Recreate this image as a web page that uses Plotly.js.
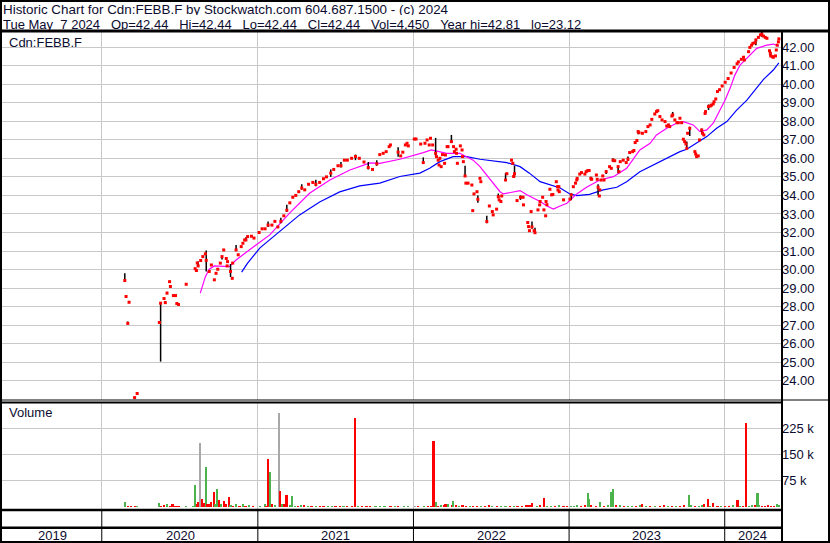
<!DOCTYPE html>
<html><head><meta charset="utf-8">
<script src="https://cdn.plot.ly/plotly-3.0.1.min.js"></script>
<style>html,body{margin:0;padding:0;background:#fff;}#chart{width:830px;height:543px;}</style>
</head><body><div id="chart"></div>
<script>
// ---------------- DATA ----------------
const priceDates = [
'2020-02-24','2020-02-27','2020-03-02','2020-03-05','2020-03-18','2020-03-24','2020-05-15','2020-05-18','2020-05-26','2020-05-29',
'2020-06-02','2020-06-08','2020-06-10','2020-06-17','2020-06-22','2020-06-25','2020-06-29','2020-07-17','2020-08-07','2020-08-10',
'2020-08-12','2020-08-14','2020-08-20','2020-08-25','2020-08-31','2020-09-02','2020-09-09','2020-09-14','2020-09-21','2020-09-25',
'2020-09-29','2020-10-05','2020-10-09','2020-10-13','2020-10-19','2020-10-21','2020-10-22','2020-10-29','2020-11-02','2020-11-03',
'2020-11-11','2020-11-16','2020-11-23','2020-11-27','2020-12-01','2020-12-04','2020-12-08','2020-12-17','2020-12-23',
'2021-01-04','2021-01-11','2021-01-18','2021-01-25','2021-02-03','2021-02-10','2021-02-17','2021-02-24','2021-03-03','2021-03-10',
'2021-03-17','2021-03-24','2021-03-31','2021-04-07','2021-04-14','2021-04-21','2021-04-30','2021-05-10','2021-05-17','2021-05-26',
'2021-06-04','2021-06-11','2021-06-21','2021-06-28','2021-07-08','2021-07-15','2021-07-23','2021-07-30','2021-08-09','2021-08-18',
'2021-08-27','2021-09-07','2021-09-17','2021-09-27','2021-10-07','2021-10-14','2021-10-22','2021-10-29','2021-11-05','2021-11-08',
'2021-11-26','2021-12-02','2021-12-07','2021-12-13','2021-12-17','2021-12-20',
'2022-01-03','2022-01-07','2022-01-18','2022-01-24','2022-01-28','2022-02-02','2022-02-07','2022-02-10','2022-02-15','2022-02-22',
'2022-02-24','2022-02-28','2022-03-02','2022-03-04','2022-03-07','2022-03-10','2022-03-15','2022-03-17','2022-03-21','2022-03-23',
'2022-03-31','2022-04-05','2022-04-07','2022-04-11','2022-04-12','2022-04-14','2022-04-21','2022-04-25','2022-04-26','2022-04-28',
'2022-05-02','2022-05-04','2022-05-09','2022-05-18','2022-05-20','2022-05-23','2022-05-30','2022-06-01','2022-06-06','2022-06-08',
'2022-06-22','2022-06-28','2022-07-05','2022-07-07','2022-07-15','2022-07-19','2022-07-21','2022-07-25','2022-07-27','2022-08-05',
'2022-08-08','2022-08-19','2022-08-22','2022-08-24','2022-08-26','2022-09-01','2022-09-09','2022-09-15','2022-09-16','2022-09-26',
'2022-09-28','2022-09-30','2022-10-04','2022-10-06','2022-10-11','2022-10-13','2022-10-20','2022-10-24','2022-10-25','2022-10-31',
'2022-11-03','2022-11-07','2022-11-08','2022-11-10','2022-11-17','2022-11-21','2022-11-24','2022-12-02','2022-12-05','2022-12-06',
'2022-12-08','2022-12-09','2022-12-19',
'2023-01-03','2023-01-06','2023-01-11','2023-01-16','2023-01-19','2023-01-20','2023-01-26','2023-01-30','2023-02-07','2023-02-10',
'2023-02-14','2023-02-17','2023-02-21','2023-02-23','2023-03-06','2023-03-08','2023-03-10','2023-03-13','2023-03-14','2023-03-17',
'2023-03-21','2023-03-24','2023-03-29','2023-04-06','2023-04-10','2023-04-14','2023-04-18','2023-04-26','2023-04-28','2023-05-01',
'2023-05-08','2023-05-15','2023-05-19','2023-05-23','2023-05-30','2023-06-02','2023-06-05','2023-06-09','2023-06-12','2023-06-14',
'2023-06-22','2023-06-30','2023-07-05','2023-07-10','2023-07-14','2023-07-21','2023-07-25','2023-07-28','2023-08-02','2023-08-07',
'2023-08-14','2023-08-18','2023-08-22','2023-08-25','2023-08-30','2023-09-01','2023-09-06','2023-09-11','2023-09-14','2023-09-18',
'2023-09-22','2023-09-26','2023-09-29','2023-10-02','2023-10-04','2023-10-06','2023-10-11','2023-10-23','2023-10-25','2023-10-27',
'2023-10-31','2023-11-03','2023-11-08','2023-11-10','2023-11-13','2023-11-16','2023-11-17','2023-11-24','2023-11-28','2023-12-01',
'2023-12-05','2023-12-07','2023-12-11','2023-12-15','2023-12-20','2023-12-26',
'2024-01-02','2024-01-09','2024-01-16','2024-01-23','2024-01-30','2024-02-02','2024-02-09','2024-02-14','2024-02-16','2024-02-26',
'2024-02-29','2024-03-04','2024-03-07','2024-03-12','2024-03-14','2024-03-20','2024-03-25','2024-03-28','2024-04-01','2024-04-05',
'2024-04-09','2024-04-15','2024-04-17','2024-04-18','2024-04-22','2024-04-24','2024-04-29','2024-05-01','2024-05-03','2024-05-06',
'2024-05-07'
];
const priceClose = [
29.41,28.55,27.10,28.24,23.10,23.32,27.15,28.19,28.44,28.22,
28.73,29.35,29.09,28.60,28.60,28.17,28.12,29.21,30.05,29.95,
30.36,30.20,30.49,30.70,30.85,30.50,29.90,30.25,29.45,29.80,
30.02,30.35,30.70,31.06,30.60,30.20,30.43,29.90,29.53,30.35,
31.06,30.80,31.24,31.42,31.60,31.60,31.78,31.80,31.70,
32.00,32.20,32.20,32.40,32.40,32.60,32.30,32.60,32.90,33.20,
33.60,33.90,34.00,34.20,34.40,34.30,34.60,34.70,34.60,34.70,
34.90,35.00,35.20,35.40,35.60,35.60,35.90,35.90,36.00,36.10,
36.00,35.80,35.50,35.40,35.70,36.20,36.27,36.36,36.63,36.72,
36.33,36.13,36.33,36.72,36.81,36.67,
37.04,37.04,36.77,35.77,36.81,36.99,36.72,37.08,36.72,36.27,
36.09,35.90,35.64,36.00,35.55,36.20,35.73,36.18,36.63,36.63,
36.90,36.63,36.36,36.49,36.27,35.73,36.67,36.45,36.09,35.82,
35.05,34.66,34.66,34.56,33.18,34.08,34.20,33.79,34.92,34.74,
32.59,33.43,33.13,32.95,33.26,33.93,33.76,33.67,33.97,34.83,
35.17,35.90,35.73,35.02,35.17,33.72,33.90,33.90,33.49,32.54,
32.32,32.10,33.13,32.30,32.10,31.99,33.22,33.49,33.67,33.90,
33.22,32.90,33.67,33.50,34.33,34.03,34.05,34.74,34.47,34.29,
34.47,34.20,33.76,
33.80,34.03,34.47,34.66,34.83,34.92,35.15,35.23,35.15,35.28,
35.34,35.34,34.92,34.87,35.10,34.87,34.44,33.97,34.30,34.83,
35.05,34.83,35.28,35.55,35.46,35.90,35.87,35.55,35.28,35.82,
35.90,35.77,35.95,36.31,36.36,36.42,36.85,36.96,37.44,37.38,
37.35,37.44,37.71,37.80,38.10,38.39,38.52,38.57,38.25,38.07,
37.98,37.74,37.80,37.71,38.28,38.34,38.07,37.92,37.92,38.16,
37.92,37.03,36.90,36.77,36.54,37.35,37.62,36.36,36.23,36.09,
36.13,36.99,37.53,37.35,37.26,38.42,38.52,38.79,38.82,38.87,
38.93,39.05,39.20,39.60,39.70,39.90,
40.10,40.30,40.60,40.90,41.10,41.20,41.34,41.45,41.30,41.75,
41.98,42.10,42.20,42.23,42.38,42.52,42.65,42.70,42.59,42.52,
42.47,41.80,41.66,41.52,41.48,41.45,41.52,41.84,42.10,42.28,
42.44
];
// daily high-low ranges (only days with a visible range)
const barDates = ['2020-02-24','2020-03-02','2020-03-05','2020-05-18','2020-05-29','2020-06-02','2020-08-14','2020-09-02','2020-10-09','2020-10-29',
'2020-11-11','2020-12-04','2021-03-10','2021-04-14','2021-06-21','2021-08-18','2021-09-17','2021-11-26','2022-02-22','2022-03-31',
'2022-05-02','2022-06-01','2022-06-22','2022-08-05','2022-08-26','2022-09-09','2022-10-06','2023-01-06','2023-02-21','2023-03-10',
'2023-03-29','2023-04-14','2023-04-26','2023-06-12','2023-10-04','2023-10-11','2023-11-08','2023-11-24','2024-03-14','2024-03-28','2024-04-17',
'2021-01-25','2021-02-24','2021-05-17','2021-07-15','2021-10-07','2022-01-24','2022-07-19','2022-10-13','2023-05-19','2023-09-01'];
const barHigh = [29.80,27.20,28.30,28.19,28.30,28.80,30.44,31.03,30.75,30.30,
31.33,31.75,33.50,34.60,35.40,36.20,35.80,36.60,37.10,37.26,
35.60,34.00,32.90,35.20,35.60,34.00,32.60,34.10,35.00,34.60,
35.35,36.00,35.60,37.50,36.90,37.70,37.60,38.90,42.45,42.81,41.80,
32.60,32.80,34.85,35.80,35.90,36.05,34.10,32.25,36.10,38.50];
const barLow = [29.39,27.08,28.20,25.04,28.15,28.70,30.17,29.90,30.55,29.60,
31.00,31.55,33.10,34.30,35.00,35.90,35.40,36.09,36.09,36.90,
35.05,33.60,32.50,34.80,35.00,33.76,32.20,33.75,34.80,34.00,
35.15,35.80,35.20,37.30,36.50,37.20,37.30,38.60,42.10,42.55,41.50,
32.30,32.50,34.50,35.50,35.60,35.70,33.85,31.95,35.85,38.25];

// short moving average (magenta)
const maShortDates = ['2020-08-19','2020-08-31','2020-09-09','2020-09-21','2020-10-26','2020-11-11','2020-12-12','2021-01-29','2021-03-17','2021-05-03',
'2021-06-19','2021-08-05','2021-09-21','2021-10-14','2021-11-30','2021-12-31','2022-01-24','2022-02-12','2022-02-28','2022-03-20',
'2022-04-20','2022-05-06','2022-05-21','2022-06-06','2022-06-22','2022-07-07','2022-07-23','2022-07-31','2022-08-23','2022-09-08',
'2022-09-24','2022-10-09','2022-10-25','2022-11-10','2022-11-25','2022-12-11','2022-12-27','2023-01-19','2023-02-11','2023-03-14',
'2023-04-15','2023-05-16','2023-06-16','2023-07-10','2023-07-25','2023-08-18','2023-09-10','2023-09-26','2023-10-19','2023-11-04',
'2023-11-20','2023-12-05','2023-12-21','2024-01-02','2024-01-14','2024-01-25','2024-02-06','2024-02-29','2024-03-16','2024-04-09',
'2024-04-24','2024-05-07'];
const maShortValues = [28.73,29.62,30.02,30.20,30.16,30.52,31.06,31.87,33.06,34.13,
34.83,35.37,35.75,35.73,35.95,36.13,36.31,36.45,36.36,36.27,
36.27,36.09,35.90,35.55,35.10,34.66,34.20,34.08,34.20,34.26,
34.03,33.85,33.67,33.43,33.26,33.43,33.58,34.08,34.44,34.83,
35.01,35.46,36.45,36.81,37.26,37.62,37.89,37.98,37.80,37.44,
37.53,37.89,38.60,39.14,39.80,40.50,41.03,41.57,41.93,42.10,
42.16,42.05];
// long moving average (blue)
const maLongDates = ['2020-11-24','2020-12-08','2021-01-06','2021-02-21','2021-04-09','2021-05-26','2021-07-12','2021-08-28','2021-10-14','2021-11-30',
'2022-01-16','2022-02-08','2022-03-04','2022-04-04','2022-05-06','2022-06-06','2022-06-29','2022-08-08','2022-09-08','2022-09-30',
'2022-10-25','2022-11-17','2022-12-11','2023-01-03','2023-01-19','2023-02-18','2023-03-22','2023-04-23','2023-05-16','2023-06-16',
'2023-07-17','2023-08-18','2023-09-18','2023-10-04','2023-10-27','2023-11-20','2023-12-13','2024-01-06','2024-01-29','2024-02-22',
'2024-04-01','2024-04-24','2024-05-07'];
const maLongValues = [29.86,30.35,31.17,32.03,32.95,33.65,34.19,34.51,34.66,35.02,
35.20,35.46,35.82,36.09,36.09,35.95,35.87,35.77,35.55,35.20,
34.74,34.56,34.40,34.08,33.99,34.06,34.30,34.44,34.74,35.28,
35.64,36.00,36.36,36.49,36.81,37.17,37.62,37.98,38.60,39.14,
40.26,40.76,41.15];

// volume (dir: 1 up, -1 down, 0 unchanged)
const volDates = ['2020-02-24','2020-03-02','2020-03-09','2020-03-18','2020-03-24','2020-05-15','2020-05-18','2020-05-26','2020-06-02','2020-06-10',
'2020-06-15','2020-06-22','2020-06-29','2020-07-17','2020-08-03','2020-08-07','2020-08-12','2020-08-14','2020-08-19','2020-08-24',
'2020-08-27','2020-09-01','2020-09-04','2020-09-09','2020-09-14','2020-09-20','2020-09-23','2020-09-28','2020-10-02','2020-10-06',
'2020-10-13','2020-10-18','2020-10-25','2020-10-29','2020-11-03','2020-11-11','2020-11-19','2020-11-27','2020-12-03','2020-12-12',
'2020-12-21','2021-01-06','2021-01-18','2021-01-20','2021-01-25','2021-01-29','2021-02-03','2021-02-10','2021-02-19','2021-02-23',
'2021-02-26','2021-03-03','2021-03-08','2021-03-11','2021-03-17','2021-03-23','2021-03-29','2021-04-05','2021-04-12','2021-04-19',
'2021-04-28','2021-05-07','2021-05-17','2021-05-26','2021-06-04','2021-06-14','2021-06-23','2021-07-02','2021-07-12','2021-07-21',
'2021-07-30','2021-08-09','2021-08-17','2021-08-23','2021-09-02','2021-09-13','2021-09-21','2021-10-04','2021-10-14','2021-10-25',
'2021-11-08','2021-11-18','2021-11-26','2021-12-09','2021-12-20','2022-01-04','2022-01-11','2022-01-25','2022-02-04','2022-02-11',
'2022-02-17','2022-02-22','2022-02-28','2022-03-07','2022-03-14','2022-03-17','2022-03-24','2022-04-01','2022-04-04','2022-04-11',
'2022-04-18','2022-04-26','2022-05-04','2022-05-13','2022-05-20','2022-05-30','2022-06-08','2022-06-17','2022-06-28','2022-07-04',
'2022-07-15','2022-07-26','2022-08-05','2022-08-16','2022-08-25','2022-09-02','2022-09-12','2022-09-23','2022-09-30','2022-10-06',
'2022-10-18','2022-10-25','2022-11-03','2022-11-10','2022-11-19','2022-11-29','2022-12-08','2022-12-19','2022-12-28','2023-01-05',
'2023-01-12','2023-01-19','2023-01-29','2023-02-07','2023-02-15','2023-02-17','2023-02-22','2023-03-06','2023-03-15','2023-03-24',
'2023-04-02','2023-04-10','2023-04-14','2023-04-21','2023-05-01','2023-05-10','2023-05-19','2023-05-29','2023-06-07','2023-06-16',
'2023-06-21','2023-06-30','2023-07-10','2023-07-21','2023-08-02','2023-08-12','2023-08-21','2023-08-31','2023-09-09','2023-09-18',
'2023-09-27','2023-10-09','2023-10-14','2023-10-23','2023-11-02','2023-11-10','2023-11-14','2023-11-22','2023-11-28','2023-12-05',
'2023-12-15','2023-12-24','2024-01-02','2024-01-11','2024-01-20','2024-01-31','2024-02-06','2024-02-12','2024-02-19','2024-02-26',
'2024-03-04','2024-03-11','2024-03-18','2024-03-22','2024-03-29','2024-04-05','2024-04-12','2024-04-19','2024-04-26','2024-05-03',
'2024-05-07'];
const volValues = [13000,3000,2000,3000,2000,11000,4000,5000,8000,3000,
10000,3000,2000,3000,3000,62000,8000,15000,182000,22000,
12000,114000,10000,8000,14000,43000,10000,51000,20000,9000,
16000,10000,28000,6000,4000,8000,3000,10000,3000,6000,
3000,4000,10000,4000,136000,100000,8000,5000,270000,46000,
10000,8000,35000,33000,6000,31000,4000,3000,6000,5000,
3000,4000,2000,3000,2000,3000,2000,3000,2000,4000,
2000,3000,255000,2000,3000,2000,2000,3000,2000,2000,
3000,2000,4000,2000,2000,4000,2000,2000,3000,2000,
189000,15000,4000,5000,6000,8000,10000,7000,17000,6000,
4000,5000,3000,4000,3000,2000,3000,2000,5000,4000,
2000,3000,2000,3000,2000,4000,3000,6000,5000,12000,
4000,5000,26000,4000,3000,4000,5000,3000,3000,4000,
3000,6000,3000,5000,40000,22000,5000,4000,14000,4000,
5000,43000,52000,6000,5000,3000,4000,3000,4000,6000,
8000,4000,3000,4000,3000,5000,3000,4000,3000,4000,
6000,35000,5000,4000,3000,6000,8000,24000,4000,12000,
3000,4000,3000,4000,5000,19000,4000,3000,239000,4000,
6000,5000,41000,6000,4000,3000,5000,4000,3000,8000,
4450];
const volDir = [1,-1,-1,-1,1,1,-1,-1,1,-1,
-1,-1,-1,1,1,1,-1,-1,0,-1,
-1,1,-1,-1,-1,-1,1,1,-1,1,
-1,-1,-1,1,-1,1,-1,1,-1,1,
-1,1,1,-1,-1,1,-1,1,0,-1,
1,-1,-1,-1,1,1,1,-1,1,-1,
1,-1,1,-1,-1,1,1,-1,-1,1,
-1,-1,-1,1,-1,-1,-1,1,1,1,
-1,1,-1,1,1,0,-1,1,-1,-1,
-1,1,-1,1,-1,-1,1,-1,1,-1,
1,-1,-1,1,-1,-1,1,-1,-1,1,
-1,1,1,-1,1,-1,-1,-1,-1,-1,
1,-1,-1,1,1,-1,1,-1,-1,1,
1,1,-1,-1,1,1,-1,-1,1,-1,
1,1,1,-1,1,-1,1,1,-1,1,
-1,1,-1,1,-1,-1,1,-1,1,-1,
-1,1,1,-1,1,1,-1,-1,1,-1,
-1,1,-1,-1,1,-1,1,-1,-1,1,
1,-1,1,1,-1,-1,-1,-1,-1,1,
1];

const yearStarts = ['2020-01-01','2021-01-01','2022-01-01','2023-01-01','2024-01-01'];
const yearLabels = ['2019','2020','2021','2022','2023','2024'];
const priceTicks = [24,25,26,27,28,29,30,31,32,33,34,35,36,37,38,39,40,41,42];
const volTicks = [75000,150000,225000];
const volTickText = ['75 k','150 k','225 k'];
const titleLine1 = 'Historic Chart for Cdn:FEBB.F by Stockwatch.com 604.687.1500 - (c) 2024';
const titleLine2 = 'Tue May  7 2024   Op=42.44   Hi=42.44   Lo=42.44   Cl=42.44   Vol=4,450   Year hi=42.81   lo=23.12';
const symbol = 'Cdn:FEBB.F';

// ---------------- CHART ----------------
const W = 830, H = 543;
const px = x => x / W, py = y => 1 - y / H;
const FONT = 'Arial, "Liberation Sans", sans-serif';
const TXT = '#0c0c30';
const GRID = '#c8c8c8';
const nb = s => s.replace(/ /g, '\u00a0');

const bx = [], by = [];
barDates.forEach((d, i) => { bx.push(d, d, null); by.push(barLow[i], barHigh[i], null); });

const volColor = volDir.map(v => v > 0 ? '#4cb24c' : (v < 0 ? '#ff0000' : '#a8a8a8'));

const traces = [
  {type:'scatter', mode:'lines', x:maLongDates, y:maLongValues, xaxis:'x', yaxis:'y',
   line:{color:'#0000ff', width:1.2}, hoverinfo:'skip'},
  {type:'scatter', mode:'lines', x:maShortDates, y:maShortValues, xaxis:'x', yaxis:'y',
   line:{color:'#ff00ff', width:1.2}, hoverinfo:'skip'},
  {type:'scatter', mode:'lines', x:bx, y:by, xaxis:'x', yaxis:'y', connectgaps:false,
   line:{color:'#000000', width:1.5}, hoverinfo:'skip'},
  {type:'scatter', mode:'markers', x:priceDates, y:priceClose, xaxis:'x', yaxis:'y',
   marker:{symbol:'square', size:3, color:'#ff0000', line:{width:0}}, hoverinfo:'skip'},
  {type:'bar', x:volDates, y:volValues, xaxis:'x2', yaxis:'y2',
   marker:{color:volColor, line:{width:0}}, width:5*86400000, hoverinfo:'skip'}
];

const shapes = [];
const L = (x0,y0,x1,y1,w,c) => shapes.push({type:'line', xref:'paper', yref:'paper',
  x0:px(x0), y0:py(y0), x1:px(x1), y1:py(y1), line:{color:c||'#000', width:w}, layer:'above'});
L(0,31,830,31,3);
L(782,31,782,543,2);
L(0,400,830,400,1);
L(0,402.5,782,402.5,2);
L(0,510,782,510,2.5);
L(0,527.8,782,527.8,2.5);
yearStarts.forEach(d => shapes.push({type:'line', xref:'x', yref:'paper', x0:d, x1:d,
  y0:py(542), y1:py(510), line:{color:'#000', width:1}, layer:'above'}));
shapes.push({type:'rect', xref:'paper', yref:'paper', x0:px(1), y0:py(542), x1:px(829), y1:py(1),
  line:{color:'#000', width:2}, layer:'above'});

const yearCenters = [52, 180, 335.6, 491.2, 646.7, 752.8];
const annotations = [
  {text:nb(titleLine1), x:px(2), y:py(8.5), xanchor:'left', yanchor:'middle', height:12, borderpad:0, font:{family:FONT, size:13.4, color:TXT}},
  {text:nb(titleLine2), x:px(2), y:py(23.5), xanchor:'left', yanchor:'middle', height:12, borderpad:0},
  {text:symbol, x:px(7), y:py(42.5), xanchor:'left', yanchor:'middle'},
  {text:'Volume', x:px(7), y:py(413), xanchor:'left', yanchor:'middle'}
].concat(yearLabels.map((t,i) => ({text:t, x:px(yearCenters[i]), y:py(535), xanchor:'center', yanchor:'middle'})))
 .map(a => Object.assign({xref:'paper', yref:'paper', showarrow:false, font:{family:FONT, size:13, color:TXT}}, a));

const xCommon = {type:'date', range:['2019-05-12','2024-05-12'], tickvals:yearStarts, showticklabels:false,
  ticks:'', showgrid:true, gridcolor:GRID, gridwidth:1, zeroline:false, showline:false, domain:[px(2), px(781)]};

const layout = {
  width:W, height:H, margin:{l:0,r:0,t:0,b:0}, paper_bgcolor:'#fff', plot_bgcolor:'#fff',
  showlegend:false, font:{family:FONT, size:13, color:TXT}, bargap:0,
  xaxis:Object.assign({}, xCommon, {anchor:'y'}),
  xaxis2:Object.assign({}, xCommon, {anchor:'y2', matches:'x'}),
  yaxis:{domain:[py(400), py(32)], range:[22.97, 42.81], side:'right', anchor:'x',
    tickvals:priceTicks, ticktext:priceTicks.map(v => v.toFixed(2)), ticks:'', showgrid:true, gridcolor:GRID,
    gridwidth:1, zeroline:false, showline:false, tickfont:{family:FONT, size:13, color:TXT}},
  yaxis2:{domain:[py(508.5), py(403)], range:[-4300, 297300], side:'right', anchor:'x2',
    tickvals:volTicks, ticktext:volTickText, ticks:'', showgrid:true, gridcolor:GRID,
    gridwidth:1, zeroline:false, showline:false, tickfont:{family:FONT, size:13, color:TXT}},
  shapes:shapes, annotations:annotations
};

Plotly.newPlot('chart', traces, layout, {staticPlot:true, displayModeBar:false});
</script>
</body></html>
